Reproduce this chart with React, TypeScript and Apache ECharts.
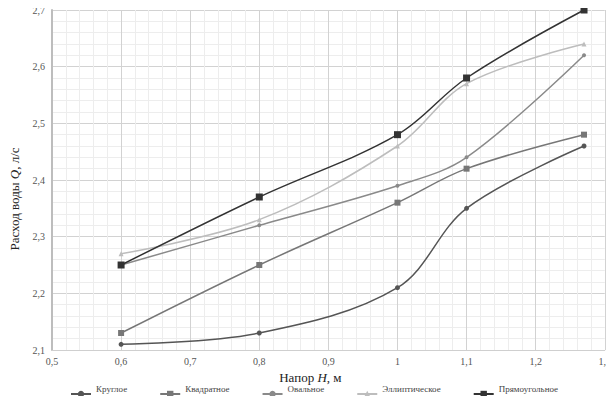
import React, { useEffect, useRef } from "react";
import * as echarts from "echarts";

const xValues = [0.6, 0.8, 1.0, 1.1, 1.27];
const seriesNames = [
  "Круглое сечение",
  "Квадратное сечение",
  "Овальное сечение",
  "Эллиптическое сечение",
  "Прямоугольное сечение",
];
const roundValues = [2.11, 2.13, 2.21, 2.35, 2.46];
const squareValues = [2.13, 2.25, 2.36, 2.42, 2.48];
const ovalValues = [2.25, 2.32, 2.39, 2.44, 2.62];
const ellipticValues = [2.27, 2.33, 2.46, 2.57, 2.64];
const rectValues = [2.25, 2.37, 2.48, 2.58, 2.7];

const seriesValues = [roundValues, squareValues, ovalValues, ellipticValues, rectValues];
const colors = ["#555555", "#777777", "#8a8a8a", "#bdbdbd", "#333333"];
const symbols = ["circle", "rect", "circle", "triangle", "rect"];
const symbolSizes = [5, 6, 4, 5, 7];

const fmt = (v: number) => String(Math.round(v * 10) / 10).replace(".", ",");
const FONT = "Liberation Serif";

export default function App() {
  const ref = useRef<HTMLDivElement>(null);
  useEffect(() => {
    if (!ref.current) return;
    const chart = echarts.init(ref.current, undefined, { renderer: "svg" });
    chart.setOption({
      animation: false,
      backgroundColor: "#ffffff",
      grid: { left: 49, right: 2, top: 10, bottom: 54 },
      legend: {
        left: 70,
        top: 384,
        itemWidth: 20,
        itemHeight: 8,
        itemGap: 32,
        padding: 0,
        formatter: (name: string) => name.replace(" ", "\n"),
        textStyle: { fontFamily: FONT, fontSize: 9, color: "#444", lineHeight: 10 },
        data: seriesNames,
      },
      xAxis: {
        type: "value",
        min: 0.5,
        max: 1.3,
        interval: 0.1,
        name: "{n|Напор }{i|H}{n|, м}",
        nameLocation: "middle",
        nameGap: 19,
        nameTextStyle: {
          padding: [0, 36, 0, 0],
          rich: {
            n: { fontFamily: FONT, fontSize: 13, color: "#222", lineHeight: 13 },
            i: { fontFamily: FONT, fontSize: 13, color: "#222", fontStyle: "italic", lineHeight: 13 },
          },
        },
        axisLine: { show: true, lineStyle: { color: "#cfcfcf", width: 1 } },
        axisTick: { show: false },
        axisLabel: { formatter: fmt, fontFamily: FONT, fontSize: 10, color: "#555", margin: 6 },
        splitLine: { show: true, lineStyle: { color: "#d2d2d2", width: 1 } },
        minorTick: { show: false, splitNumber: 5 },
        minorSplitLine: { show: true, lineStyle: { color: "#ededed", width: 1 } },
      },
      yAxis: {
        type: "value",
        min: 2.1,
        max: 2.7,
        interval: 0.1,
        name: "{n|Расход воды }{i|Q}{n|, л/с}",
        nameLocation: "middle",
        nameGap: 31,
        nameRotate: 90,
        nameTextStyle: {
          padding: [0, 38, 0, 0],
          rich: {
            n: { fontFamily: FONT, fontSize: 13, color: "#222" },
            i: { fontFamily: FONT, fontSize: 13, color: "#222", fontStyle: "italic" },
          },
        },
        axisLine: { show: true, lineStyle: { color: "#bdbdbd", width: 2 } },
        axisTick: { show: false },
        axisLabel: { formatter: fmt, fontFamily: FONT, fontSize: 10, color: "#555", margin: 7 },
        splitLine: { show: true, lineStyle: { color: "#d2d2d2", width: 1 } },
        minorTick: { show: false, splitNumber: 5 },
        minorSplitLine: { show: true, lineStyle: { color: "#ededed", width: 1 } },
      },
      series: seriesNames.map((name, k) => ({
        name,
        type: "line",
        smooth: 0.35,
        data: xValues.map((x, i) => [x, seriesValues[k][i]]),
        symbol: symbols[k],
        symbolSize: symbolSizes[k],
        showAllSymbol: true,
        itemStyle: { color: colors[k] },
        lineStyle: { color: colors[k], width: 1.5 },
      })),
    });
    return () => chart.dispose();
  }, []);
  return <div ref={ref} style={{ width: 614, height: 404, margin: -8 }} />;
}
